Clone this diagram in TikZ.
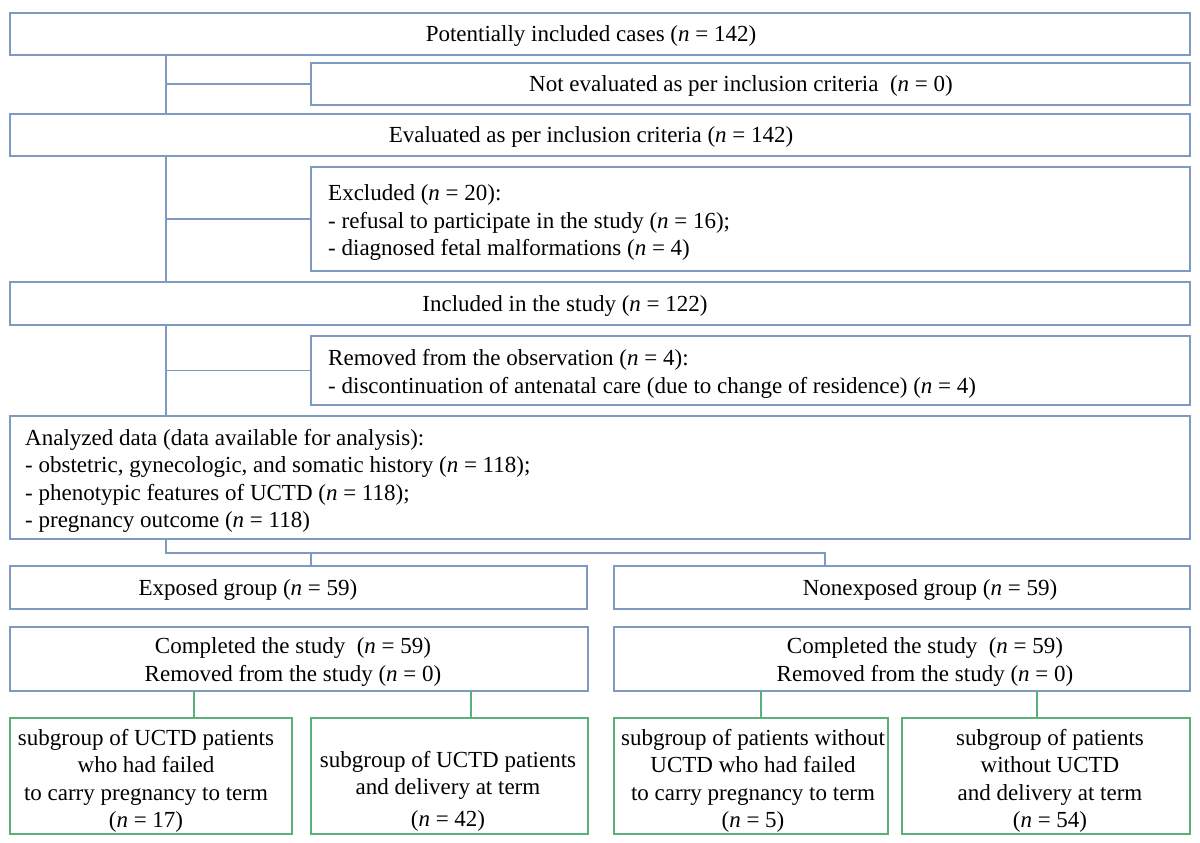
\documentclass[tikz,border=0pt]{standalone}
\usepackage{fontspec}
\setmainfont{Liberation Serif}
\definecolor{bcol}{HTML}{7F9AC0}
\definecolor{gcol}{HTML}{5BAF78}
\newcommand\nn{\textit{n}}
\newcommand\mkbox[6]{\node[#1, minimum width={#4-#2}, minimum height={#5-#3}] (#6) at ({(#2+#4)/2},{(#3+#5)/2}) {};}
\begin{document}
\begin{tikzpicture}[x=1pt,y=-1pt,
  box/.style={draw=bcol,line width=1.6pt,inner sep=0pt,outer sep=0pt},
  gbox/.style={draw=gcol,line width=1.6pt,inner sep=0pt,outer sep=0pt},
  txt/.style={inner sep=0pt,font=\fontsize{23}{27.5}\selectfont,align=center,yshift=-2pt},
  ltxt/.style={txt,align=left,anchor=west},
  conn/.style={draw=bcol,line width=1.6pt},
  gconn/.style={draw=gcol,line width=1.6pt}]
\useasboundingbox (0,0) rectangle (1200,843);
% boxes
\mkbox{box}{10}{13}{1190}{55}{b1}
\mkbox{box}{311}{63}{1190}{105}{b2}
\mkbox{box}{10}{114}{1190}{156}{b3}
\mkbox{box}{311}{167}{1190}{271}{b4}
\mkbox{box}{10}{282}{1190}{325}{b5}
\mkbox{box}{311}{336}{1190}{405}{b6}
\mkbox{box}{10}{416}{1190}{539}{b7}
\mkbox{box}{10}{566}{587}{609}{ex}
\mkbox{box}{614}{566}{1190}{609}{nx}
\mkbox{box}{10}{627}{588}{691}{cl}
\mkbox{box}{614}{627}{1190}{691}{cr}
\mkbox{gbox}{10}{718}{292}{834}{l1}
\mkbox{gbox}{311}{718}{588}{834}{l2}
\mkbox{gbox}{614}{718}{888}{834}{r1}
\mkbox{gbox}{902}{718}{1190}{834}{r2}
% texts
\node[txt] (t1) at (591,34) {Potentially included cases (\nn{} = 142)};
\node[txt] (t2) at (741,84) {Not evaluated as per inclusion criteria\ \ (\nn{} = 0)};
\node[txt] (t3) at (591,135) {Evaluated as per inclusion criteria (\nn{} = 142)};
\node[ltxt] (t4) at (328,221) {Excluded (\nn{} = 20):\\- refusal to participate in the study (\nn{} = 16);\\- diagnosed fetal malformations (\nn{} = 4)};
\node[txt] (t5) at (565,304) {Included in the study (\nn{} = 122)};
\node[ltxt] (t6) at (328,372) {Removed from the observation (\nn{} = 4):\\- discontinuation of antenatal care (due to change of residence) (\nn{} = 4)};
\node[ltxt] (t7) at (25,479) {Analyzed data (data available for analysis):\\- obstetric, gynecologic, and somatic history (\nn{} = 118);\\- phenotypic features of UCTD (\nn{} = 118);\\- pregnancy outcome (\nn{} = 118)};
\node[txt] (t8) at (248,588) {Exposed group (\nn{} = 59)};
\node[txt] (t9) at (930,588) {Nonexposed group (\nn{} = 59)};
\node[txt] (t10) at (293,660) {Completed the study\ \ (\nn{} = 59)\\Removed from the study (\nn{} = 0)};
\node[txt] (t11) at (925,660) {Completed the study\ \ (\nn{} = 59)\\Removed from the study (\nn{} = 0)};
\node[txt] (t12) at (146,779) {subgroup of UCTD patients\\who had failed\\ to carry pregnancy to term\\(\nn{} = 17)};
\node[txt] (t13) at (448,789) {subgroup of UCTD patients\\and delivery at term\\[4pt](\nn{} = 42)};
\node[txt] (t14) at (753,779) {subgroup of patients without\\UCTD who had failed\\ to carry pregnancy to term\\(\nn{} = 5)};
\node[txt] (t15) at (1050,779) {subgroup of patients\\without UCTD\\and delivery at term\\(\nn{} = 54)};
% connectors
\coordinate (sp) at (166,0);
\draw[conn] (b1.south -| sp) -- (b3.north -| sp);
\draw[conn] (sp |- b2.west) -- (b2.west);
\draw[conn] (b3.south -| sp) -- (b5.north -| sp);
\draw[conn] (sp |- b4.west) -- (b4.west);
\draw[conn] (b5.south -| sp) -- (b7.north -| sp);
\draw[conn] (sp |- b6.west) -- (b6.west);
\coordinate (br) at (825,553);
\coordinate (ej) at (311,553);
\draw[conn] (b7.south -| sp) |- (br) -- (br |- nx.north);
\draw[conn] (ej) -- (ej |- ex.north);
\coordinate (g1) at (194,0);
\coordinate (g2) at (471,0);
\coordinate (g3) at (761,0);
\coordinate (g4) at (1037,0);
\draw[gconn] (cl.south -| g1) -- (l1.north -| g1);
\draw[gconn] (cl.south -| g2) -- (l2.north -| g2);
\draw[gconn] (cr.south -| g3) -- (r1.north -| g3);
\draw[gconn] (cr.south -| g4) -- (r2.north -| g4);
\end{tikzpicture}
\end{document}
